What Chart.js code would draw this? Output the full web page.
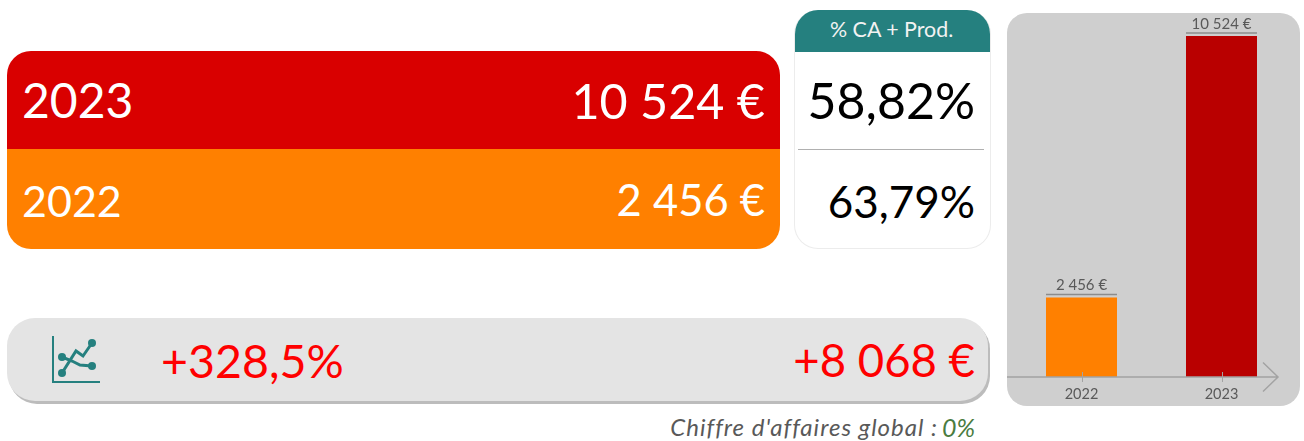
<!DOCTYPE html>
<html lang="fr">
<head>
<meta charset="utf-8">
<script src="https://cdn.jsdelivr.net/npm/chart.js@4"></script>
<style>
html,body{margin:0;padding:0;background:#fff;width:1304px;height:441px;overflow:hidden;font-family:Lato,"Open Sans",sans-serif}
.abs{position:absolute;white-space:nowrap;line-height:1}
#main{position:absolute;left:7px;top:51px;width:773px;height:198px;border-radius:24px;overflow:hidden}
#r1{position:absolute;left:0;top:0;width:100%;height:98px;background:#d90000}
#r2{position:absolute;left:0;top:98px;width:100%;height:100px;background:#ff8000}
#side{position:absolute;left:794px;top:10px;width:195px;height:238px;border:1px solid #ececec;border-top:none;border-radius:24px;overflow:hidden;background:#fff}
#head{position:absolute;left:-1px;top:0;width:197px;height:42px;background:#25807f}
#rule{position:absolute;left:798px;top:149px;width:186px;height:1px;background:#b0b0b0}
#band{position:absolute;left:7px;top:318px;width:981px;height:83px;background:#e4e4e4;border-radius:28px;box-shadow:2px 3px 0 #bcbcbc}
#panel{position:absolute;left:1007px;top:13px;width:293px;height:393px;background:#cfcfcf;border-radius:20px;overflow:hidden}
#panel canvas{display:block}
</style>
</head>
<body>
<div id="main"><div id="r1"></div><div id="r2"></div></div>
<div id="side"><div id="head"></div></div>
<div id="rule"></div>
<div id="band"></div>
<svg class="abs" style="left:50px;top:335px" width="52" height="50" viewBox="0 0 52 50">
  <path d="M3 1V47H50" fill="none" stroke="#25807f" stroke-width="2"/>
  <path d="M12 38L26 16L33 21L42 8M12 22L22 26L30 30L42 31" fill="none" stroke="#25807f" stroke-width="3"/>
  <g fill="#25807f"><circle cx="12" cy="38" r="4"/><circle cx="42" cy="8" r="4"/><circle cx="12" cy="22" r="4"/><circle cx="42" cy="31" r="4"/></g>
</svg>
<div id="panel"><canvas id="c" width="293" height="393"></canvas></div>
<div id="texts"></div>
<script>
const categories = ["2022", "2023"];
const values = [2456, 10524];
const barColors = ["#ff8000", "#b90000"];
const valueLabels = ["2 456 €", "10 524 €"];
const shareLabels = ["63,79%", "58,82%"];
const growthPercent = "+328,5%";
const growthAmount = "+8 068 €";
const headerLabel = "% CA + Prod.";
const footerLabel = "Chiffre d'affaires global :";
const footerValue = "0%";

function put(text, o){
  const d = document.createElement('div');
  d.className = 'abs';
  d.textContent = text;
  d.style.fontSize = o.size + 'px';
  d.style.color = o.color;
  d.style.top = (o.cy - o.size/2) + 'px';
  if (o.left !== undefined) d.style.left = o.left + 'px';
  if (o.right !== undefined) d.style.right = (1304 - o.right) + 'px';
  if (o.italic) d.style.fontStyle = 'italic';
  if (o.spacing) d.style.letterSpacing = o.spacing + 'px';
  document.getElementById('texts').appendChild(d);
  return d;
}
put(categories[1], {size:48, color:'#fff', cy:100, left:22});
put(valueLabels[1], {size:48.5, color:'#fff', cy:100, right:765});
put(categories[0], {size:43, color:'#fff', cy:200, left:22});
put(valueLabels[0], {size:43.5, color:'#fff', cy:200, right:765});
put(headerLabel, {size:21.4, color:'#f2f2f2', cy:30, left:830});
put(shareLabels[1], {size:50, color:'#000', cy:100, right:975});
put(shareLabels[0], {size:44, color:'#000', cy:201, right:975});
put(growthPercent, {size:46.5, color:'#ff0000', cy:360, left:161});
put(growthAmount, {size:45.5, color:'#ff0000', cy:360, right:975});
put(footerValue, {size:25, color:'#4a7c3f', cy:427, right:975, italic:true});
put(footerLabel, {size:24, color:'#595959', cy:427, right:938, italic:true, spacing:1});

const decorations = {
  id: 'decorations',
  afterDatasetsDraw(chart){
    const {ctx, scales:{x}, chartArea:a} = chart;
    const meta = chart.getDatasetMeta(0);
    ctx.save();
    ctx.strokeStyle = '#a3a3a3';
    ctx.lineWidth = 1.5;
    ctx.beginPath();
    ctx.moveTo(0, a.bottom);
    ctx.lineTo(271, a.bottom);
    ctx.moveTo(271 - 15, a.bottom - 14.5);
    ctx.lineTo(271, a.bottom);
    ctx.lineTo(271 - 15, a.bottom + 14.5);
    ctx.stroke();
    ctx.lineWidth = 1;
    categories.forEach((_, i) => {
      const px = Math.round(x.getPixelForTick(i)) + 0.5;
      ctx.beginPath();
      ctx.moveTo(px, a.bottom - 5);
      ctx.lineTo(px, a.bottom + 5);
      ctx.stroke();
    });
    meta.data.forEach((bar, i) => {
      const half = bar.width / 2;
      ctx.strokeStyle = '#8c8c8c';
      ctx.lineWidth = 1.5;
      ctx.beginPath();
      ctx.moveTo(bar.x - half, bar.y - 3);
      ctx.lineTo(bar.x + half, bar.y - 3);
      ctx.stroke();
      ctx.fillStyle = '#595959';
      ctx.font = '15px Lato, "Open Sans", sans-serif';
      ctx.textAlign = 'center';
      ctx.textBaseline = 'alphabetic';
      ctx.fillText(valueLabels[i], bar.x, bar.y - 7);
    });
    ctx.restore();
  }
};

new Chart(document.getElementById('c'), {
  type: 'bar',
  data: {
    labels: categories,
    datasets: [{ data: values, backgroundColor: barColors, borderWidth: 0, barPercentage: 1, categoryPercentage: 71/140 }]
  },
  options: {
    responsive: false,
    animation: false,
    events: [],
    layout: { padding: { left: 4.5, right: 8.5, top: 23, bottom: 0 } },
    plugins: { legend: { display: false }, tooltip: { enabled: false }, title: { display: false } },
    scales: {
      y: { display: false, min: 0, max: 10524 },
      x: {
        afterFit(s){ s.height = 29; },
        grid: { display: false },
        border: { display: false },
        ticks: { color: '#595959', padding: 1, font: { family: 'Lato, "Open Sans", sans-serif', size: 14.5 }, maxRotation: 0 }
      }
    }
  },
  plugins: [decorations]
});
</script>
</body>
</html>
